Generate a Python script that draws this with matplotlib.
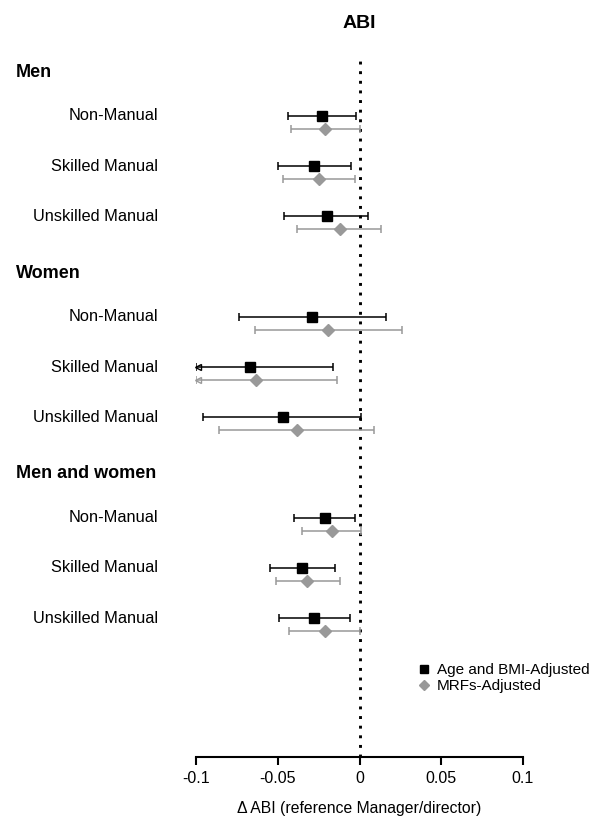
import matplotlib
matplotlib.use("Agg")
import matplotlib.pyplot as plt
from matplotlib.lines import Line2D
from matplotlib.transforms import blended_transform_factory
import numpy as np

plt.rcParams["font.family"] = ["Liberation Sans", "DejaVu Sans"]

GROUPS = ["Men", "Women", "Men and women"]
CATEGORIES = ["Non-Manual", "Skilled Manual", "Unskilled Manual"]

# Age and BMI-adjusted estimates (men x3, women x3, men and women x3)
age_est = [-0.023, -0.028, -0.020, -0.029, -0.067, -0.047, -0.021, -0.035, -0.028]
age_lo = [-0.044, -0.050, -0.046, -0.074, -0.100, -0.096, -0.040, -0.055, -0.049]
age_hi = [-0.002, -0.005, 0.005, 0.016, -0.016, 0.001, -0.003, -0.015, -0.006]

# MRFs-adjusted estimates
mrf_est = [-0.021, -0.025, -0.012, -0.019, -0.063, -0.038, -0.017, -0.032, -0.021]
mrf_lo = [-0.042, -0.047, -0.038, -0.064, -0.100, -0.086, -0.035, -0.051, -0.043]
mrf_hi = [0.000, -0.003, 0.013, 0.026, -0.014, 0.009, 0.001, -0.012, 0.000]

XTICKS = [-0.1, -0.05, 0, 0.05, 0.1]
XTICKLABELS = ["-0.1", "-0.05", "0", "0.05", "0.1"]
XMIN, XMAX = -0.1, 0.1

BLACK = "#000000"
GREY = "#999999"

fig = plt.figure(figsize=(5.93, 8.18), dpi=100)
ax = fig.add_axes([196 / 593, 1 - 757 / 818, 327 / 593, 697 / 818])

rows = np.array([g * 4 + i for g in range(len(GROUPS)) for i in range(len(CATEGORIES))], dtype=float)
offset = 0.26


def draw_series(ypos, est, lo, hi, color, marker, ms):
    est = np.asarray(est)
    lo = np.asarray(lo)
    hi = np.asarray(hi)
    ax.errorbar(est, ypos, xerr=[est - lo, hi - est], fmt="none", ecolor=color,
                elinewidth=1.1, capsize=3.2, capthick=1.1, zorder=2)
    ax.plot(est, ypos, linestyle="none", marker=marker, ms=ms, color=color, zorder=3)
    clipped = lo <= XMIN + 1e-9
    if clipped.any():
        ax.plot(lo[clipped] + 0.0012, ypos[clipped], linestyle="none", marker="<", ms=4.5,
                mfc="none", mec=color, mew=1.0, zorder=3, clip_on=False)


draw_series(rows, age_est, age_lo, age_hi, BLACK, "s", 7.6)
draw_series(rows + offset, mrf_est, mrf_lo, mrf_hi, GREY, "D", 6.2)

ax.axvline(0, color="black", lw=2.1, linestyle=(0, (1, 2.3)), zorder=1)

ax.set_xlim(XMIN, XMAX)
ax.set_ylim((757 - 116) / 50.2, (60 - 116) / 50.2)
ax.set_yticks([])
ax.set_xticks(XTICKS)
ax.set_xticklabels(XTICKLABELS, fontsize=11.5)
ax.tick_params(axis="x", length=6, width=1.5, pad=4)
for side in ("top", "right", "left"):
    ax.spines[side].set_visible(False)
ax.spines["bottom"].set_linewidth(1.5)
ax.set_xlabel("Δ ABI (reference Manager/director)", fontsize=11.3, labelpad=11)
ax.set_title("ABI", fontsize=14, fontweight="bold", pad=23)

trans = blended_transform_factory(fig.transFigure, ax.transData)
for r, cat in zip(rows, CATEGORIES * len(GROUPS)):
    ax.text(158 / 593, r, cat, transform=trans, ha="right", va="center", fontsize=11.8)
for g, name in enumerate(GROUPS):
    ax.text(16 / 593, g * 4 - 0.87, name, transform=trans, ha="left", va="center",
            fontsize=13, fontweight="bold")

handles = [
    Line2D([], [], linestyle="none", marker="s", ms=6, color=BLACK),
    Line2D([], [], linestyle="none", marker="D", ms=5, color=GREY),
]
ax.legend(handles, ["Age and BMI-Adjusted", "MRFs-Adjusted"], loc="center left",
          bbox_to_anchor=(0.655, 0.113), frameon=False, fontsize=11, handlelength=0.8,
          handletextpad=0.45, labelspacing=0.1, borderpad=0)

fig.savefig("out.png", dpi=100, facecolor="white")
